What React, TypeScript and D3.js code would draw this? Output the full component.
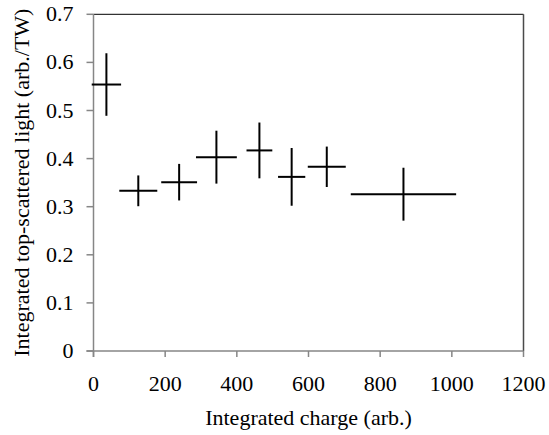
import React from "react";
import * as d3 from "d3";

const xValues = [36, 125, 239, 343, 463, 553, 651, 865];
const xErrors = [41, 53, 50, 57, 36, 38, 53, 147];
const yValues = [0.554, 0.333, 0.351, 0.403, 0.417, 0.362, 0.383, 0.326];
const yErrors = [0.065, 0.032, 0.038, 0.055, 0.058, 0.06, 0.042, 0.055];
const xTicks = [0, 200, 400, 600, 800, 1000, 1200];
const yTicks = [0, 0.1, 0.2, 0.3, 0.4, 0.5, 0.6, 0.7];
const xTitle = "Integrated charge (arb.)";
const yTitle = "Integrated top-scattered light (arb./TW)";

const W = 549, H = 435;
const M = { left: 93.5, right: 523.5, top: 14.3, bottom: 351 };
const FONT = "Liberation Serif, Times New Roman, serif";
const textStyle = { fontFamily: FONT, fontSize: "22px" } as React.CSSProperties;

export default function App() {
  const x = d3.scaleLinear().domain([0, 1200]).range([M.left, M.right]);
  const y = d3.scaleLinear().domain([0, 0.7]).range([M.bottom, M.top]);
  const axisColor = "#868686";
  return (
    <svg width={W} height={H} style={{ position: "absolute", left: 0, top: 0, background: "#fff" }}>
      <rect x={0} y={0} width={W} height={H} fill="#fff" />
      <line x1={M.left} x2={M.right} y1={M.top} y2={M.top} stroke="#000" strokeWidth={1} />
      <line x1={M.right} x2={M.right} y1={M.top} y2={M.bottom} stroke="#4a4a4a" strokeWidth={1.5} />
      <line x1={M.left} x2={M.left} y1={M.top} y2={M.bottom + 6} stroke={axisColor} strokeWidth={1.5} />
      {yTicks.map((t) => (
        <g key={"y" + t}>
          <line x1={M.left - 7} x2={M.left} y1={y(t)} y2={y(t)} stroke={axisColor} strokeWidth={1.5} />
          <text x={M.left - 20} y={y(t) + 7} textAnchor="end" style={textStyle} fill="#000">
            {t === 0 ? "0" : t.toFixed(1)}
          </text>
        </g>
      ))}
      <line x1={M.left - 7} x2={M.right} y1={M.bottom} y2={M.bottom} stroke={axisColor} strokeWidth={1.5} />
      {xTicks.map((t) => (
        <g key={"x" + t}>
          <line x1={x(t)} x2={x(t)} y1={M.bottom} y2={M.bottom + 6} stroke={axisColor} strokeWidth={1.5} />
          <text x={x(t)} y={M.bottom + 40} textAnchor="middle" style={textStyle} fill="#000">
            {String(t)}
          </text>
        </g>
      ))}
      {xValues.map((xv, i) => (
        <g key={"p" + i} stroke="#000" strokeWidth={2}>
          <line x1={x(xv - xErrors[i])} x2={x(xv + xErrors[i])} y1={y(yValues[i])} y2={y(yValues[i])} />
          <line x1={x(xv)} x2={x(xv)} y1={y(yValues[i] - yErrors[i])} y2={y(yValues[i] + yErrors[i])} />
        </g>
      ))}
      <text x={(M.left + M.right) / 2} y={425} textAnchor="middle" style={textStyle} fill="#000">{xTitle}</text>
      <text transform={`translate(29, ${(M.top + M.bottom) / 2}) rotate(-90)`} textAnchor="middle" style={textStyle} fill="#000">
        {yTitle}
      </text>
    </svg>
  );
}
